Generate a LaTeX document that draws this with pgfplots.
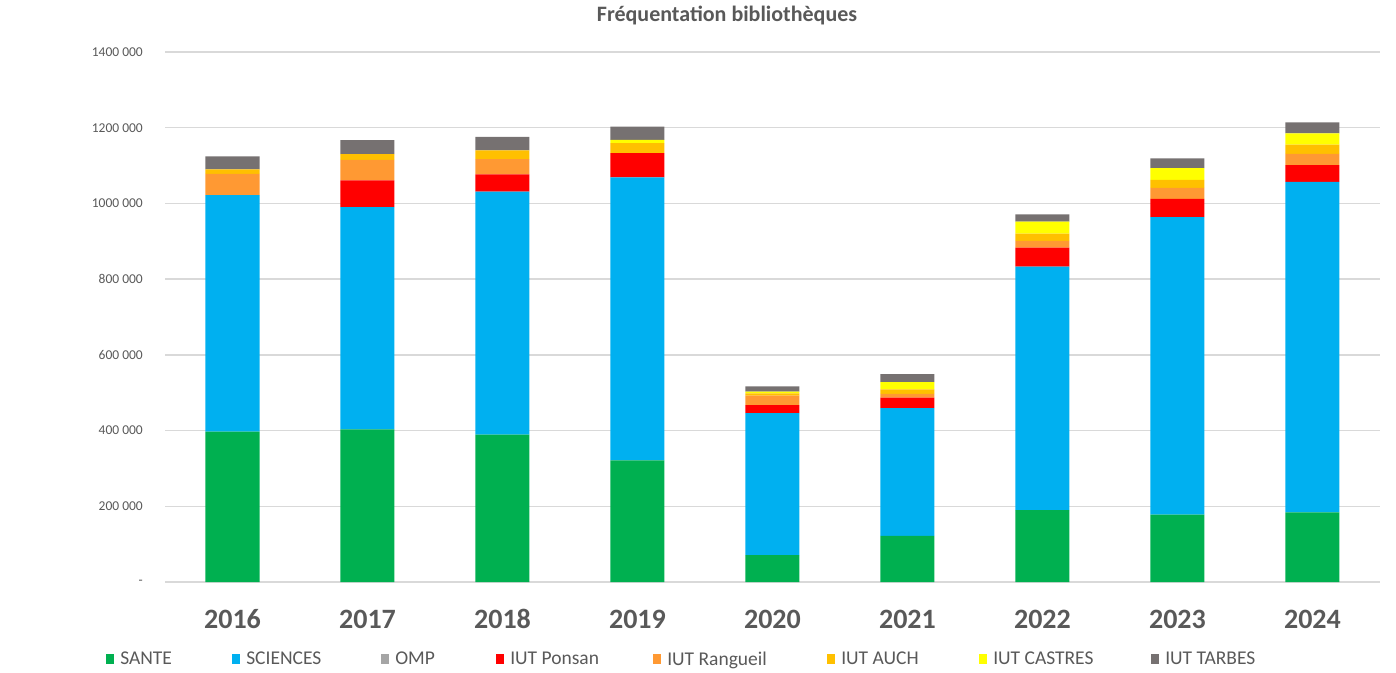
\documentclass[border=0pt]{standalone}
\usepackage{pgfplots}
\usepackage{pgfplotstable}
\pgfplotsset{compat=1.18}
\usepackage{fontspec}
\setmainfont{Carlito}
\definecolor{cSante}{HTML}{00B050}
\definecolor{cSci}{HTML}{00B0F0}
\definecolor{cOmp}{HTML}{A5A5A5}
\definecolor{cPonsan}{HTML}{FF0000}
\definecolor{cRang}{HTML}{FF9933}
\definecolor{cAuch}{HTML}{FFC000}
\definecolor{cCast}{HTML}{FFFF00}
\definecolor{cTarb}{HTML}{767171}
\definecolor{txt}{HTML}{595959}
\definecolor{gridc}{HTML}{D9D9D9}
\pgfplotstableread{
x sante sciences omp ponsan rangueil auch castres tarbes
0 397 625 0 0 56 12 0 34
1 403 587 0 71 54 15 0 37
2 389 642 0 46 40 23 0 36
3 321 748 0 64 0 26 9 35
4 71 375 0 21 25 6 5 14
5 122 337 0 28 10 12 19 21
6 190 643 0 50 18 19 32 19
7 178 786 0 48 29 21 31 26
8 184 873 0 44 30 24 30 29
}\data
\begin{document}
\begin{tikzpicture}
\useasboundingbox (0pt,0pt) rectangle (1396pt,672pt);
\begin{axis}[
  at={(165pt,90pt)}, anchor=south west,
  scale only axis, width=1215pt, height=530pt,
  ybar stacked, bar width=54pt,
  xmin=-0.5, xmax=8.5, ymin=0, ymax=1400,
  xtick={0,...,8},
  xticklabels={2016,2017,2018,2019,2020,2021,2022,2023,2024},
  ytick={0,200,400,600,800,1000,1200,1400},
  yticklabels={-,200 000,400 000,600 000,800 000,1000 000,1200 000,1400 000},
  axis line style={draw=none},
  major tick length=0pt, tick style={draw=none},
  xmajorgrids=false, ymajorgrids=true,
  major grid style={draw=gridc, line width=1.3pt},
  xticklabel style={font=\fontsize{28}{30}\selectfont\bfseries, text=txt, anchor=center, yshift=-37pt},
  yticklabel style={font=\fontsize{13.5}{15}\selectfont, text=txt, anchor=east, inner sep=0pt, xshift=-22pt},
  legend columns=8,
  legend cell align=left,
  legend image code/.code={\fill[#1] (0pt,-5pt) rectangle (8pt,5pt);},
  legend style={draw=none, fill=none, inner sep=0pt,
    at={(axis description cs:-0.0485,-0.1453)}, anchor=west,
    font=\fontsize{19.5}{21}\selectfont, text=txt,
    nodes={inner sep=0pt},
    /tikz/every even column/.append style={column sep=0pt}},
]
\addplot[fill=cSante, draw=none] table[x=x, y=sante] {\data};
\addplot[fill=cSci, draw=none] table[x=x, y=sciences] {\data};
\addplot[fill=cOmp, draw=none] table[x=x, y=omp] {\data};
\addplot[fill=cPonsan, draw=none] table[x=x, y=ponsan] {\data};
\addplot[fill=cRang, draw=none] table[x=x, y=rangueil] {\data};
\addplot[fill=cAuch, draw=none] table[x=x, y=auch] {\data};
\addplot[fill=cCast, draw=none] table[x=x, y=castres] {\data};
\addplot[fill=cTarb, draw=none] table[x=x, y=tarbes] {\data};
\legend{\makebox[118pt][l]{\hspace{6pt}SANTE},
        \makebox[141pt][l]{\hspace{6pt}SCIENCES},
        \makebox[107pt][l]{\hspace{6pt}OMP},
        \makebox[149pt][l]{\hspace{6pt}IUT Ponsan},
        \makebox[166pt][l]{\hspace{6pt}IUT Rangueil},
        \makebox[144pt][l]{\hspace{6pt}IUT AUCH},
        \makebox[164pt][l]{\hspace{6pt}IUT CASTRES},
        \makebox[100pt][l]{\hspace{6pt}IUT TARBES}}
\end{axis}
\node[font=\fontsize{22}{24}\selectfont\bfseries, text=txt] at (727pt,656pt) {Fréquentation bibliothèques};
\end{tikzpicture}
\end{document}
